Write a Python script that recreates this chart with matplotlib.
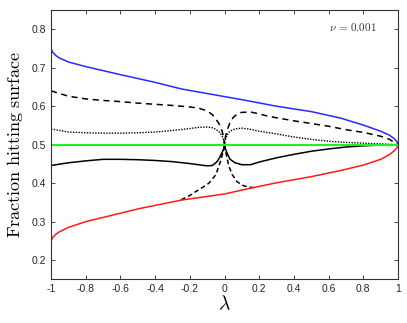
import matplotlib
matplotlib.use("Agg")
import matplotlib.pyplot as plt

plt.rcParams["mathtext.fontset"] = "cm"
plt.rcParams["font.family"] = ["Liberation Sans", "DejaVu Sans"]

# upper / lower envelopes
blue_x = [-1.0, -0.99, -0.97, -0.95, -0.9, -0.8, -0.6, -0.4, -0.25, 0.0, 0.1, 0.3,
          0.5, 0.67, 0.8, 0.9, 0.95, 0.98, 0.995, 1.0]
blue_y = [0.750, 0.740, 0.731, 0.725, 0.715, 0.703, 0.682, 0.662, 0.645, 0.625,
          0.617, 0.600, 0.586, 0.569, 0.551, 0.535, 0.525, 0.515, 0.507, 0.500]
red_x = [-1.0, -0.99, -0.97, -0.95, -0.9, -0.8, -0.6, -0.49, -0.25, 0.0, 0.15, 0.3,
         0.5, 0.67, 0.8, 0.9, 0.95, 0.98, 0.995, 1.0]
red_y = [0.250, 0.259, 0.268, 0.274, 0.285, 0.300, 0.322, 0.334, 0.356, 0.372,
         0.387, 0.401, 0.417, 0.433, 0.447, 0.462, 0.474, 0.485, 0.493, 0.500]
green_x = [-1.0, 1.0]
green_y = [0.5, 0.5]

# dashed (upper branch)
dash_x = [-1.0, -0.9, -0.8, -0.7, -0.6, -0.5, -0.4, -0.3, -0.2, -0.15, -0.1, -0.07,
          -0.05, -0.03, -0.015, -0.005, 0.0, 0.005, 0.015, 0.03, 0.05, 0.08, 0.1,
          0.15, 0.2, 0.26, 0.3, 0.4, 0.5, 0.6, 0.7, 0.8, 0.9, 0.95, 1.0]
dash_y = [0.640, 0.626, 0.619, 0.615, 0.612, 0.608, 0.605, 0.602, 0.598, 0.595,
          0.588, 0.578, 0.567, 0.553, 0.537, 0.520, 0.500, 0.520, 0.537, 0.556,
          0.571, 0.582, 0.584, 0.585, 0.580, 0.573, 0.570, 0.562, 0.555, 0.548,
          0.539, 0.532, 0.522, 0.514, 0.500]

# dashed (lower branches, merging into the red curve)
dlo_left_x = [-0.25, -0.2, -0.17, -0.13, -0.09, -0.05, -0.023, -0.01, -0.003, 0.0]
dlo_left_y = [0.357, 0.368, 0.377, 0.388, 0.400, 0.422, 0.457, 0.478, 0.490, 0.500]
dlo_right_x = [0.0, 0.003, 0.01, 0.025, 0.045, 0.07, 0.1, 0.12, 0.15, 0.18]
dlo_right_y = [0.500, 0.490, 0.475, 0.444, 0.422, 0.405, 0.395, 0.392, 0.389, 0.389]

# dotted
dot_x = [-1.0, -0.9, -0.8, -0.7, -0.6, -0.5, -0.4, -0.3, -0.2, -0.15, -0.1, -0.07,
         -0.05, -0.03, -0.015, -0.005, 0.0, 0.005, 0.015, 0.03, 0.06, 0.1, 0.15,
         0.2, 0.3, 0.4, 0.5, 0.6, 0.7, 0.8, 0.9, 1.0]
dot_y = [0.541, 0.533, 0.531, 0.530, 0.530, 0.531, 0.533, 0.537, 0.542, 0.545,
         0.546, 0.544, 0.540, 0.533, 0.524, 0.512, 0.500, 0.513, 0.525, 0.535,
         0.541, 0.543, 0.540, 0.535, 0.528, 0.520, 0.514, 0.509, 0.506, 0.504,
         0.502, 0.500]

# solid black
sol_x = [-1.0, -0.9, -0.8, -0.7, -0.6, -0.5, -0.4, -0.3, -0.2, -0.15, -0.1, -0.07,
         -0.045, -0.03, -0.015, -0.005, 0.0, 0.005, 0.015, 0.03, 0.06, 0.1, 0.15,
         0.2, 0.3, 0.4, 0.5, 0.6, 0.7, 0.8, 0.9, 1.0]
sol_y = [0.446, 0.453, 0.458, 0.462, 0.462, 0.461, 0.459, 0.456, 0.451, 0.448,
         0.445, 0.446, 0.455, 0.465, 0.479, 0.489, 0.500, 0.489, 0.478, 0.463,
         0.453, 0.448, 0.448, 0.455, 0.466, 0.475, 0.483, 0.489, 0.494, 0.497,
         0.499, 0.500]

x_ticks = [-1, -0.8, -0.6, -0.4, -0.2, 0, 0.2, 0.4, 0.6, 0.8, 1]
x_ticklabels = ["-1", "-0.8", "-0.6", "-0.4", "-0.2", "0", "0.2", "0.4", "0.6", "0.8", "1"]
y_ticks = [0.2, 0.3, 0.4, 0.5, 0.6, 0.7, 0.8]
y_ticklabels = ["0.2", "0.3", "0.4", "0.5", "0.6", "0.7", "0.8"]

fig = plt.figure(figsize=(4.07, 3.23), dpi=100)
ax = fig.add_axes([0.1253, 0.135, 0.8527, 0.834])

ax.plot(blue_x, blue_y, color="#2a2aff", lw=1.1)
ax.plot(dash_x, dash_y, color="black", lw=1.1, dashes=(4, 3))
ax.plot(dlo_left_x, dlo_left_y, color="black", lw=1.1, dashes=(3, 2))
ax.plot(dlo_right_x, dlo_right_y, color="black", lw=1.1, dashes=(3, 2))
ax.plot(dot_x, dot_y, color="black", lw=1.0, ls=(0, (1, 1)))
ax.plot(sol_x, sol_y, color="black", lw=1.1)
ax.plot(red_x, red_y, color="#ff1a1a", lw=1.1)
ax.plot(green_x, green_y, color="#22ee22", lw=1.5)

ax.set_xlim(-1, 1)
ax.set_ylim(0.15, 0.85)
ax.set_xticks(x_ticks)
ax.set_xticklabels(x_ticklabels)
ax.set_yticks(y_ticks)
ax.set_yticklabels(y_ticklabels)
ax.tick_params(direction="in", top=True, right=True, labelsize=7.5,
               length=3, width=0.6, colors="#262626")
for sp in ax.spines.values():
    sp.set_color("#333333")
    sp.set_linewidth(0.8)

ax.set_xlabel(r"$\lambda$", fontsize=14, labelpad=0)
ax.set_ylabel(r"$\mathrm{Fraction\ hitting\ surface}$", fontsize=13, labelpad=5)
ax.text(0.87, 0.937, r"$\nu\,=\,0.001$", transform=ax.transAxes,
        ha="center", va="center", fontsize=8, color="#333333")

fig.savefig("out.png", dpi=100)
